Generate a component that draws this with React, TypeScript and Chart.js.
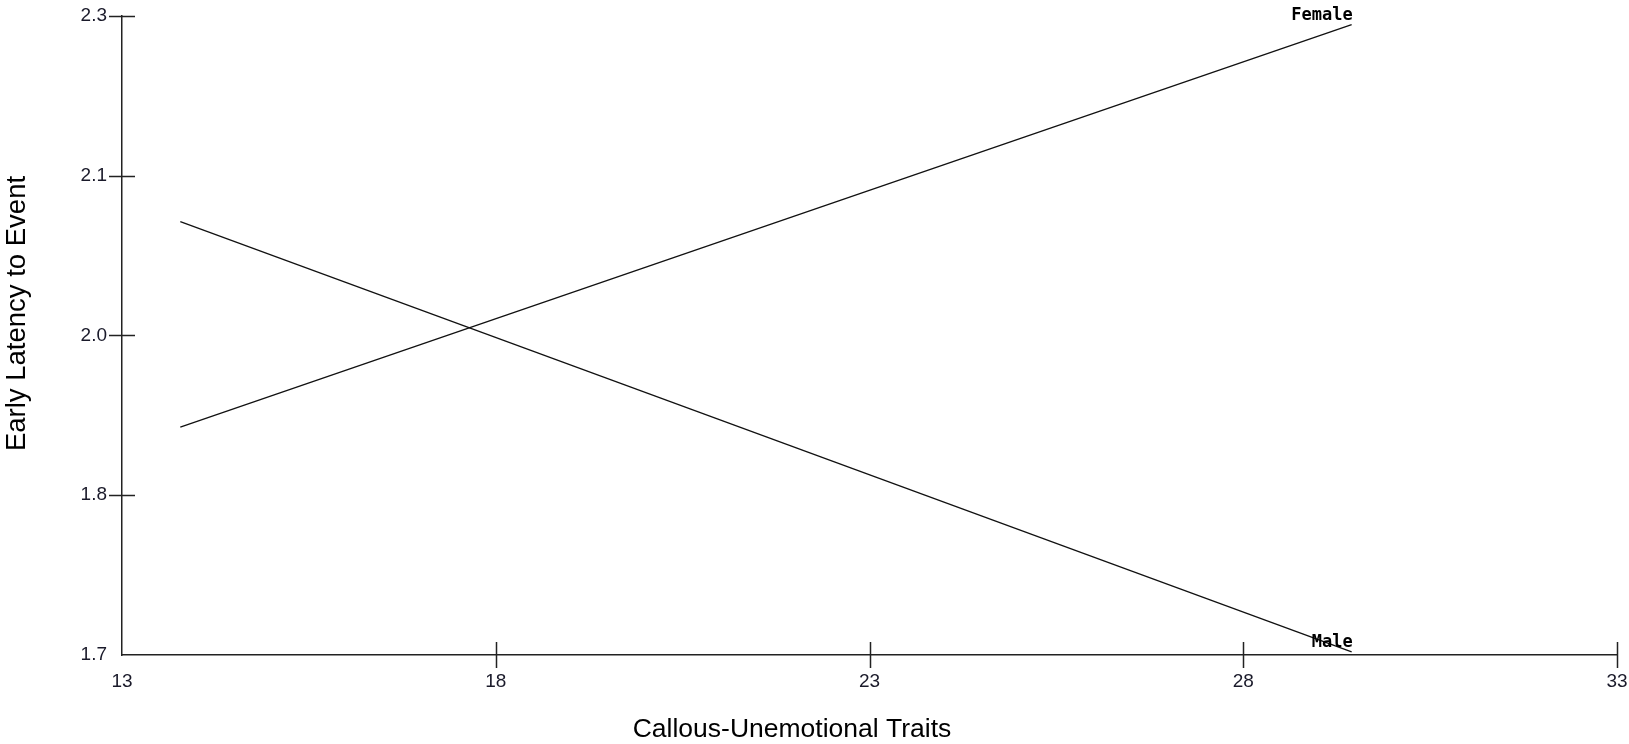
import React, { useEffect, useRef } from "react";
import { Chart, registerables } from "chart.js";

Chart.register(...registerables);

const xPoints = [13.78, 29.45];
const femaleValues = [1.914, 2.292];
const maleValues = [2.107, 1.703];
const seriesNames = ["Female", "Male"];
const yTickLabels = ["1.7", "1.8", "2.0", "2.1", "2.3"];
const xTickValues = [13, 18, 23, 28, 33];
const xTitle = "Callous-Unemotional Traits";
const yTitle = "Early Latency to Event";

const tickMarks = {
  id: "tickMarks",
  afterDraw(chart: any) {
    const { ctx } = chart;
    const xs = chart.scales.x;
    const ys = chart.scales.y;
    ctx.save();
    ctx.strokeStyle = "#222";
    ctx.lineWidth = 1.5;
    ctx.beginPath();
    xs.ticks.forEach((t: any, i: number) => {
      if (i === 0) return;
      const px = Math.round(xs.getPixelForValue(t.value)) + 0.5;
      ctx.moveTo(px, ys.bottom - 13);
      ctx.lineTo(px, ys.bottom + 13);
    });
    ys.ticks.forEach((t: any, i: number) => {
      if (i === 0) return;
      const py = Math.round(ys.getPixelForValue(t.value)) + 0.5;
      ctx.moveTo(xs.left - 13, py);
      ctx.lineTo(xs.left + 13, py);
    });
    ctx.stroke();

    // axis titles
    const area = chart.chartArea;
    ctx.fillStyle = "#000";
    ctx.textAlign = "center";
    ctx.textBaseline = "middle";
    ctx.font = "26.5px 'Liberation Sans', Arial";
    ctx.fillText(xTitle, area.left + 670, area.bottom + 75);
    ctx.translate(17, (area.top + area.bottom) / 2 - 22);
    ctx.rotate(-Math.PI / 2);
    ctx.font = "27.5px 'Liberation Sans', Arial";
    ctx.fillText(yTitle, 0, 0);
    ctx.restore();
  },
};

const endLabels = {
  id: "endLabels",
  afterDatasetsDraw(chart: any) {
    const { ctx } = chart;
    ctx.save();
    ctx.font = "bold 17px 'DejaVu Sans Mono'";
    ctx.fillStyle = "#000";
    ctx.textAlign = "right";
    ctx.textBaseline = "alphabetic";
    chart.data.datasets.forEach((ds: any, i: number) => {
      const meta = chart.getDatasetMeta(i);
      const last = meta.data[meta.data.length - 1];
      ctx.fillText(ds.label, last.x + 1, last.y - 5);
    });
    ctx.restore();
  },
};

export default function App() {
  const ref = useRef<HTMLCanvasElement | null>(null);
  useEffect(() => {
    document.body.style.margin = "0";
    const canvas = ref.current!;
    const chart = new Chart(canvas, {
      type: "scatter",
      data: {
        datasets: [
          {
            label: seriesNames[0],
            data: xPoints.map((x, i) => ({ x, y: femaleValues[i] })),
            showLine: true,
            borderColor: "#111",
            borderWidth: 1.3,
            pointRadius: 0,
          },
          {
            label: seriesNames[1],
            data: xPoints.map((x, i) => ({ x, y: maleValues[i] })),
            showLine: true,
            borderColor: "#111",
            borderWidth: 1.3,
            pointRadius: 0,
          },
        ],
      },
      options: {
        animation: false,
        responsive: false,
        devicePixelRatio: 1,
        layout: { padding: { left: 0, right: 12, top: 16, bottom: 0 } },
        plugins: {
          legend: { display: false },
          tooltip: { enabled: false },
        },
        scales: {
          x: {
            type: "linear",
            min: 13,
            max: 33,
            afterBuildTicks(scale: any) {
              scale.ticks = xTickValues.map((v) => ({ value: v }));
            },
            afterFit(scale: any) {
              scale.height = 89;
              scale.paddingLeft = 0;
              scale.paddingRight = 0;
            },
            grid: { drawOnChartArea: false, drawTicks: false },
            border: { display: true, color: "#222", width: 1.5 },
            ticks: {
              padding: 15,
              color: "#1a1a2a",
              font: { family: "'Liberation Sans', Arial", size: 19 },
              callback: (v: any) => String(v),
            },
            title: { display: false },
          },
          y: {
            type: "linear",
            min: 1.7,
            max: 2.3,
            afterBuildTicks(scale: any) {
              scale.ticks = yTickLabels.map((_, i) => ({ value: 1.7 + i * 0.15 }));
            },
            afterFit(scale: any) {
              scale.width = 122;
              scale.paddingTop = 0;
              scale.paddingBottom = 0;
            },
            grid: { drawOnChartArea: false, drawTicks: false },
            border: { display: true, color: "#222", width: 1.5 },
            ticks: {
              padding: 15,
              color: "#1a1a2a",
              font: { family: "'Liberation Sans', Arial", size: 19 },
              callback: (_v: any, i: number) => yTickLabels[i],
            },
            title: { display: false },
          },
        },
      },
      plugins: [tickMarks, endLabels],
    });
    return () => chart.destroy();
  }, []);
  return <canvas ref={ref} width={1629} height={744} style={{ display: "block" }} />;
}
